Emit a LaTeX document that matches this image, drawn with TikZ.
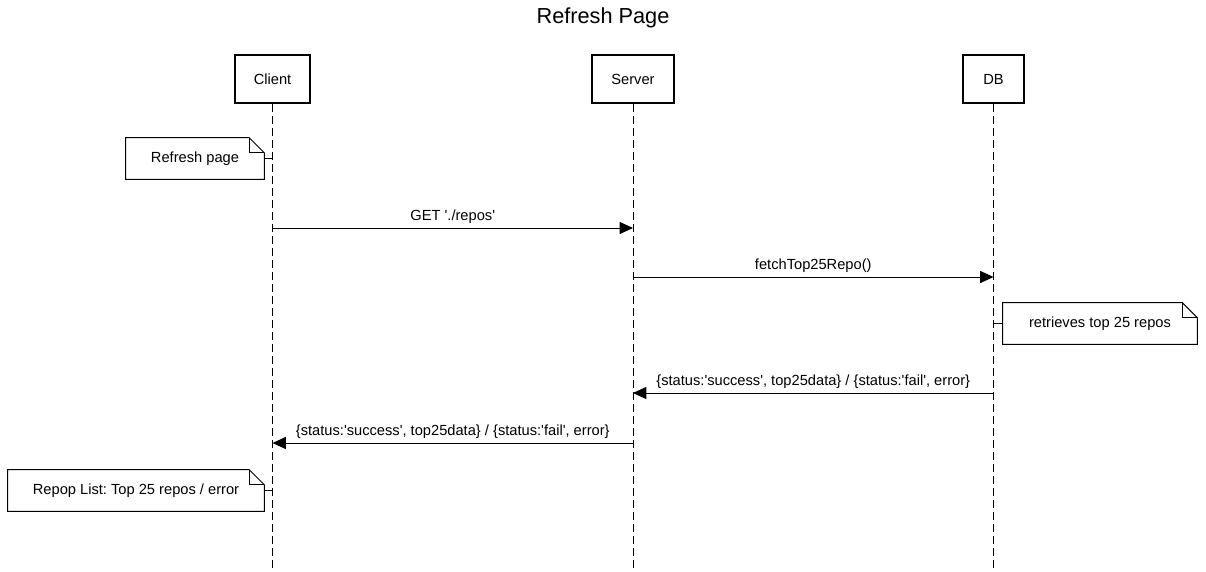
\documentclass[tikz,border=0pt]{standalone}
\usepackage{fontspec}
\setmainfont{Liberation Sans}
\usetikzlibrary{arrows.meta,positioning}

\newcommand{\sq}{\textquotesingle}
\frenchspacing

\tikzset{
  actor/.style={draw, line width=1.5pt, minimum height=36pt, inner sep=0pt, font=\fontsize{11}{13}\selectfont},
  lifeline/.style={line width=0.75pt, dash pattern=on 6pt off 3pt},
  msg/.style={line width=0.75pt, -{Triangle[length=10pt, width=9pt]}},
  msglabel/.style={font=\fontsize{11}{13}\selectfont, inner sep=1pt},
  notebox/.style={minimum height=30.75pt, inner sep=0pt, font=\fontsize{11}{13}\selectfont},
}

\begin{document}
\begin{tikzpicture}[x=0.75pt, y=-0.75pt]
            \useasboundingbox (0,0) rectangle (1206,571);
            \node[font=\fontsize{16.3}{19}\selectfont] (title) at (603,18) {Refresh Page};
            \node[actor, minimum width=56.25pt] (client) at (272.5,79) {Client};
            \node[actor, minimum width=61.5pt] (server) at (633,79) {Server};
            \node[actor, minimum width=45.75pt] (db) at (993.5,79) {DB};
            \coordinate (bottom) at (0,571);
            \draw[lifeline] (client.south) -- (client |- bottom);
            \draw[lifeline] (server.south) -- (server |- bottom);
            \draw[lifeline] (db.south) -- (db |- bottom);
            % notes
            \node[notebox, minimum width=103.5pt] (refresh) at (195,158.5) {Refresh page};
            \node[notebox, minimum width=145.5pt] (retrieve) at (1100,323.5) {retrieves top 25 repos};
            \node[notebox, minimum width=192pt] (repop) at (136,490.5) {Repop List: Top 25 repos / error};
            \foreach \n in {refresh, retrieve, repop} {
              \draw[line width=0.75pt] (\n.north west) -- ([xshift=-11.25pt]\n.north east)
                -- ([yshift=-11.25pt]\n.north east) -- (\n.south east) -- (\n.south west) -- cycle;
              \draw[line width=0.75pt] ([xshift=-11.25pt]\n.north east) -- ([xshift=-11.25pt, yshift=-11.25pt]\n.north east)
                -- ([yshift=-11.25pt]\n.north east);
            }
            \draw[line width=0.75pt] (refresh.east) -- (refresh.east -| client);
            \draw[line width=0.75pt] (retrieve.west) -- (retrieve.west -| db);
            \draw[line width=0.75pt] (repop.east) -- (repop.east -| client);
            % messages
            \coordinate (m1) at (0,228);
            \coordinate (m2) at (0,277);
            \coordinate (m3) at (0,393);
            \coordinate (m4) at (0,443);
            \draw[msg] (client |- m1) -- (server |- m1) node[msglabel, midway, above=2pt] {GET \sq./repos\sq};
            \draw[msg] (server |- m2) -- (db |- m2) node[msglabel, midway, above=2pt] {fetchTop25Repo()};
            \draw[msg] (db |- m3) -- (server |- m3) node[msglabel, midway, above=2pt] {\{status:\sq success\sq, top25data\} / \{status:\sq fail\sq, error\}};
            \draw[msg] (server |- m4) -- (client |- m4) node[msglabel, midway, above=2pt] {\{status:\sq success\sq, top25data\} / \{status:\sq fail\sq, error\}};
        \end{tikzpicture}
\end{document}
